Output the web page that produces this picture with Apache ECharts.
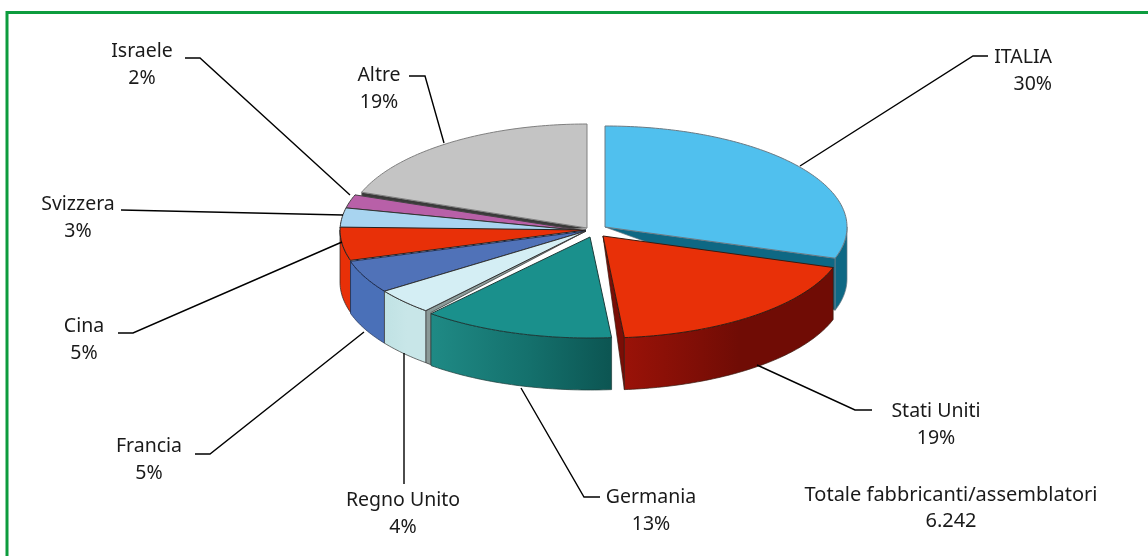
<!DOCTYPE html>
<html><head><meta charset="utf-8">
<style>html,body{margin:0;padding:0;background:#fff}#c{width:1148px;height:556px}</style>
<script src="https://cdn.jsdelivr.net/npm/echarts@6/dist/echarts.min.js"></script>
</head><body><div id="c"></div>
<script>
const categories = ['ITALIA','Stati Uniti','Germania','Regno Unito','Francia','Cina','Svizzera','Israele','Altre'];
const percentages = [30,19,13,4,5,5,3,2,19];
const totalLabel = 'Totale fabbricanti/assemblatori';
const totalValue = '6.242';

const topColors = ['#50c0ee','#e83008','#1a908c','#d4eef4','#5072b8','#e83008','#a8d4f0','#b860a8','#c4c4c4'];
const wallColors = [['#0e6884','#0e6884','#0e6884'],['#9a1208','#700c05','#700c05'],['#1f8a85','#14706c','#0c5552'],['#c0e2e4','#c8e6e8','#c8e6e8'],['#4a70b8','#4a70b8','#4a70b8'],['#e83008','#e83008','#e83008'],['#a8d4f0','#a8d4f0','#a8d4f0'],['#b860a8','#b860a8','#b860a8'],['#c4c4c4','#c4c4c4','#c4c4c4']];
const faceColors = ['#0e6884','#7a0e06',null,'#8b9a98',null,null,null,null,'#3a3a3a'];
const strokeColors = ['#6a7a84','#3a1a10','#1c3c3a','#333','#1c2c50','#222','#333','#444','#808080'];
// centre x, centre y, radius x, radius y of each (exploded) wedge
const geometry = [[605,227,242,101],[603,236,242,102],[590,237,244,101],[586,231,246,105],[586,231,246,105],[586,230,246,105],[586,231,246,105],[586,231,246,105],[587,228,240,104]];
const faceWiden = [[0,0],[0,0],[0,0],[5,2],[0,0],[0,0],[0,0],[0,0],[0,0]];
const depth = 52;
const paintOrder = [8,7,6,5,4,3,0,1,2];

// label layout: [x, y of first line, anchor], leader polyline
const labelLayout = [
  [1052,57,'right'],[936,411,'center'],[651,497,'center'],[403,500,'center'],[149,446,'center'],[84,326,'center'],[78,204,'center'],[142,51,'center'],[379,75,'center']
];
const leaders = [
  [[800,166],[973,56],[988,56]],
  [[757,365],[855,410],[872,410]],
  [[600,497],[584,497],[521,388]],
  [[404,353],[404,484]],
  [[195,454],[210,454],[364,332]],
  [[118,333],[133,333],[342,242]],
  [[121,210],[343,215]],
  [[185,58],[200,58],[350,195]],
  [[409,76],[425,76],[444,143]]
];

const sum = percentages.reduce((a,b)=>a+b,0);
const starts = []; let acc = 0;
percentages.forEach(v=>{starts.push(acc/sum*360); acc+=v;});
// slight foreshortening of the tilted disc
function warp(t){ if(t<=108||t>=360) return t; const s=Math.sin((t-108)/252*Math.PI); return t-2.6*s*s; }
function pt(g,t,dy){ const r=t*Math.PI/180; return [g[0]+g[2]*Math.sin(r), g[1]-g[3]*Math.cos(r)+(dy||0)]; }
function arc(g,a,b,dy){ const out=[]; const n=Math.max(2,Math.ceil(Math.abs(b-a))); for(let k=0;k<=n;k++){out.push(pt(g,a+(b-a)*k/n,dy));} return out; }

function renderItem(params, api){
  const i = paintOrder[params.dataIndex];
  const g = geometry[i];
  const a = warp(starts[i]), b = warp(starts[i]+api.value(0)/sum*360);
  const stroke = strokeColors[i], children = [];
  const apex = [g[0],g[1]];
  if(faceColors[i]){
    const t = (i===0||i===1) ? b : a;
    const c = pt(g,t), w = faceWiden[i];
    const pts = (w[0]||w[1])
      ? [apex,[c[0]+w[0],c[1]+w[1]],[c[0]+w[0],c[1]+w[1]+depth],[c[0],c[1]+depth],c]
      : [apex,c,[c[0],c[1]+depth]];
    children.push({type:'polygon',shape:{points:pts},style:{fill:faceColors[i],stroke:stroke,lineWidth:.7}});
  }
  const wa=Math.max(a,90), wb=Math.min(b,270);
  if(wb>wa){
    const upper=arc(g,wa,wb), lower=arc(g,wb,wa,depth);
    const cols=wallColors[i];
    children.push({type:'polygon',shape:{points:upper.concat(lower)},style:{
      fill:{type:'linear',x:0,y:0,x2:1,y2:0,colorStops:[{offset:0,color:cols[0]},{offset:.55,color:cols[1]},{offset:1,color:cols[2]}]},
      stroke:stroke,lineWidth:.7}});
  }
  children.push({type:'polygon',shape:{points:[apex].concat(arc(g,a,b))},style:{fill:topColors[i],stroke:stroke,lineWidth:1}});
  return {type:'group',children};
}

const font = '"Noto Sans"';
const graphics = [
  {type:'rect',shape:{x:7,y:12.5,width:1145,height:560},style:{fill:'#fff',stroke:'#0d9c3e',lineWidth:3},z:0}
];
leaders.forEach(p=>graphics.push({type:'polyline',shape:{points:p},style:{fill:null,stroke:'#000',lineWidth:1.4},z:5}));
categories.forEach((c,i)=>{
  const l=labelLayout[i];
  graphics.push({type:'text',x:l[0],y:l[1]-13,style:{text:c+'\n'+percentages[i]+'%',fill:'#1a1a1a',font:'19.5px '+font,align:l[2],verticalAlign:'top',lineHeight:27},z:6});
});
graphics.push({type:'text',x:951,y:482,style:{text:totalLabel+'\n'+totalValue,fill:'#1a1a1a',font:'20px '+font,align:'center',verticalAlign:'top',lineHeight:26},z:6});

const chart = echarts.init(document.getElementById('c'),null,{renderer:'canvas'});
chart.setOption({
  animation:false,
  backgroundColor:'#fff',
  graphic:{elements:graphics},
  series:[{type:'custom',coordinateSystem:'none',silent:true,z:3,renderItem,
    data:paintOrder.map(i=>({name:categories[i],value:[percentages[i]]}))}]
});
</script></body></html>
